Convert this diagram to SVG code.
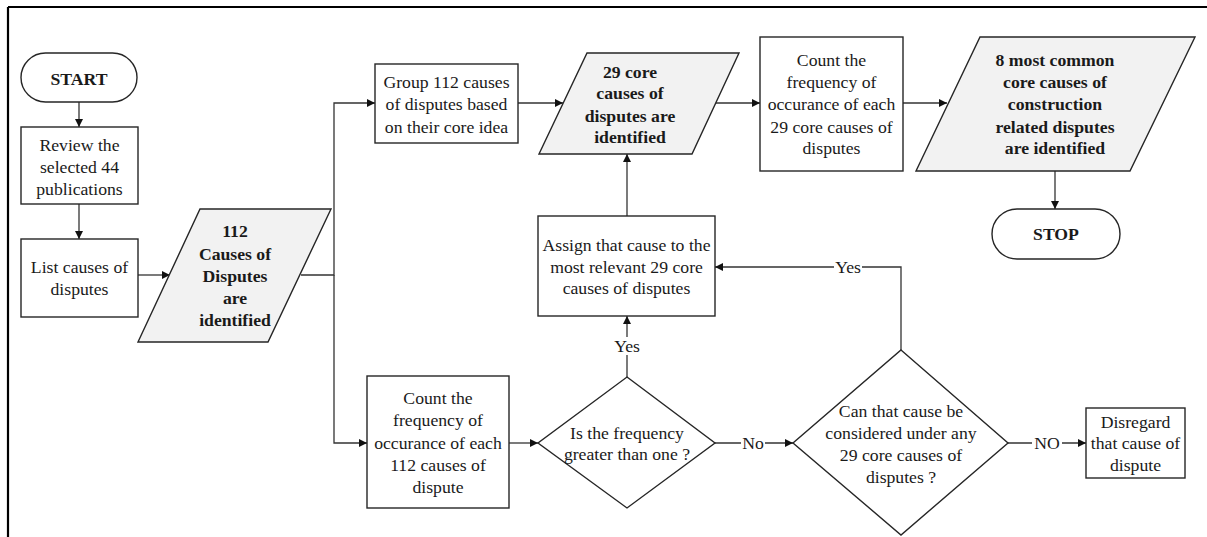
<svg xmlns="http://www.w3.org/2000/svg" width="1207" height="537" viewBox="0 0 1207 537">
  <style>
    .box { fill: #ffffff; stroke: #262626; stroke-width: 1.4; }
    .data { fill: #f2f2f2; stroke: #262626; stroke-width: 1.4; }
    text { font-family: 'Liberation Serif', 'Times New Roman', Times, 'DejaVu Serif', serif; font-size: 17.7px; fill: #1a1a1a; text-anchor: middle; dominant-baseline: central; }
    .b { font-weight: bold; }
    .lbg { fill: #ffffff; stroke: none; }
    .wire { fill: none; stroke: #333333; stroke-width: 1.3; }
  </style>
  <defs>
    <marker id="arrow" viewBox="0 0 10 10" refX="10" refY="5" markerWidth="8" markerHeight="8" markerUnits="userSpaceOnUse" orient="auto">
      <path d="M0,0 L10,5 L0,10 z" fill="#111111"/>
    </marker>
  </defs>

  <rect width="1207" height="537" fill="#ffffff"/>
  <!-- page frame (top and left rules) -->
  <path d="M8,7 H1207 M8,7 V537" fill="none" stroke="#000000" stroke-width="2.2"/>

  <!-- connectors -->
  <g id="connectors">
    <path class="wire" d="M79,102 V127" marker-end="url(#arrow)"/>
    <path class="wire" d="M79,204 V239" marker-end="url(#arrow)"/>
    <path class="wire" d="M138,275 H170" marker-end="url(#arrow)"/>
    <path class="wire" d="M301,275 H334 V103 H375" marker-end="url(#arrow)"/>
    <path class="wire" d="M334,275 V443 H367" marker-end="url(#arrow)"/>
    <path class="wire" d="M518,103 H563" marker-end="url(#arrow)"/>
    <path class="wire" d="M715,103 H760" marker-end="url(#arrow)"/>
    <path class="wire" d="M903,103 H947" marker-end="url(#arrow)"/>
    <path class="wire" d="M1055,171 V209" marker-end="url(#arrow)"/>
    <path class="wire" d="M627,216 V154" marker-end="url(#arrow)"/>
    <path class="wire" d="M509,443 H538" marker-end="url(#arrow)"/>
    <path class="wire" d="M627,377 V316" marker-end="url(#arrow)"/>
    <path class="wire" d="M715,443 H793" marker-end="url(#arrow)"/>
    <path class="wire" d="M901,350 V267 H715" marker-end="url(#arrow)"/>
    <path class="wire" d="M1008,443 H1086" marker-end="url(#arrow)"/>
    <!-- connector labels -->
    <rect class="lbg" x="613" y="337" width="28" height="18"/>
    <text x="627" y="346">Yes</text>
    <rect class="lbg" x="741" y="434" width="24" height="18"/>
    <text x="753" y="443">No</text>
    <rect class="lbg" x="834" y="258" width="28" height="18"/>
    <text x="848" y="267">Yes</text>
    <rect class="lbg" x="1032" y="434" width="30" height="18"/>
    <text x="1047" y="443">NO</text>
  </g>

  <g id="start">
    <rect class="box" x="21" y="53" width="116" height="49" rx="24.5" ry="24.5"/>
    <text class="b" x="79" y="79">START</text>
  </g>

  <g id="review">
    <rect class="box" x="21" y="127" width="117" height="77"/>
    <text x="79.5" y="145">Review the</text>
    <text x="79.5" y="167">selected 44</text>
    <text x="79.5" y="189">publications</text>
  </g>

  <g id="list">
    <rect class="box" x="21" y="239" width="117" height="78"/>
    <text x="79.5" y="267">List causes of</text>
    <text x="79.5" y="289">disputes</text>
  </g>

  <g id="causes112">
    <polygon class="data" points="200,209 331,209 268,342 138,342"/>
    <text class="b" x="235" y="231">112</text>
    <text class="b" x="235" y="254">Causes of</text>
    <text class="b" x="235" y="276">Disputes</text>
    <text class="b" x="235" y="298">are</text>
    <text class="b" x="235" y="320">identified</text>
  </g>

  <g id="group">
    <rect class="box" x="375" y="64" width="143" height="79"/>
    <text x="446.5" y="82">Group 112 causes</text>
    <text x="446.5" y="104">of disputes based</text>
    <text x="446.5" y="127">on their core idea</text>
  </g>

  <g id="core29">
    <polygon class="data" points="587,53 739,53 692,154 539,154"/>
    <text class="b" x="630" y="72">29 core</text>
    <text class="b" x="630" y="93">causes of</text>
    <text class="b" x="630" y="116">disputes are</text>
    <text class="b" x="630" y="137">identified</text>
  </g>

  <g id="count29">
    <rect class="box" x="760" y="37" width="143" height="134"/>
    <text x="831.5" y="60">Count the</text>
    <text x="831.5" y="82">frequency of</text>
    <text x="831.5" y="104">occurance of each</text>
    <text x="831.5" y="127">29 core causes of</text>
    <text x="831.5" y="148">disputes</text>
  </g>

  <g id="common8">
    <polygon class="data" points="980,37 1195,37 1130,171 916,171"/>
    <text class="b" x="1055" y="60">8 most common</text>
    <text class="b" x="1055" y="82">core causes of</text>
    <text class="b" x="1055" y="104">construction</text>
    <text class="b" x="1055" y="127">related disputes</text>
    <text class="b" x="1055" y="148">are identified</text>
  </g>

  <g id="stop">
    <rect class="box" x="992" y="209" width="128" height="50" rx="25" ry="25"/>
    <text class="b" x="1056" y="234">STOP</text>
  </g>

  <g id="assign">
    <rect class="box" x="538" y="216" width="177" height="100"/>
    <text x="626.5" y="245">Assign that cause to the</text>
    <text x="626.5" y="267">most relevant 29 core</text>
    <text x="626.5" y="288">causes of disputes</text>
  </g>

  <g id="count112">
    <rect class="box" x="367" y="376" width="142" height="132"/>
    <text x="438" y="398">Count the</text>
    <text x="438" y="420">frequency of</text>
    <text x="438" y="443">occurance of each</text>
    <text x="438" y="465">112 causes of</text>
    <text x="438" y="487">dispute</text>
  </g>

  <g id="decision-frequency">
    <polygon class="box" points="627,377 715,443 627,508 538,443"/>
    <text x="627" y="433">Is the frequency</text>
    <text x="627" y="454">greater than one ?</text>
  </g>

  <g id="decision-core">
    <polygon class="box" points="901,350 1008,443 901,535 793,443"/>
    <text x="901" y="411">Can that cause be</text>
    <text x="901" y="433">considered under any</text>
    <text x="901" y="455">29 core causes of</text>
    <text x="901" y="477">disputes ?</text>
  </g>

  <g id="disregard">
    <rect class="box" x="1086" y="408" width="99" height="70"/>
    <text x="1135.5" y="422">Disregard</text>
    <text x="1135.5" y="443">that cause of</text>
    <text x="1135.5" y="465">dispute</text>
  </g>
</svg>
